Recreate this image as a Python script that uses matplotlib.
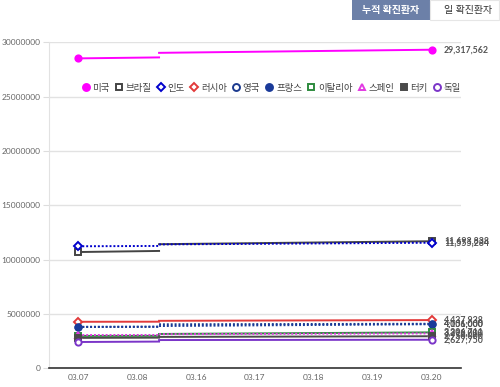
import matplotlib
matplotlib.use("Agg")
import matplotlib.pyplot as plt
from matplotlib.patches import Rectangle
from matplotlib.lines import Line2D

plt.rcParams['font.family'] = ['Lato', 'Noto Sans CJK KR', 'DejaVu Sans']

dates = ["03.07", "03.08", "03.16", "03.17", "03.18", "03.19", "03.20"]
countries = ["미국", "브라질", "인도", "러시아", "영국", "프랑스", "이탈리아", "스페인", "터키", "독일"]

# each series: [value at 03.07, value before the break, value after the break, value at 03.20]
usa     = [28520000, 28610000, 29030000, 29317562]
brazil  = [10700000, 10800000, 11420000, 11693838]
india   = [11230000, 11260000, 11400000, 11555284]
russia  = [4280000, 4290000, 4370000, 4437938]
uk      = [3800000, 3810000, 4050000, 4101000]
france  = [3820000, 3840000, 3890000, 4056000]
italy   = [2980000, 2990000, 3160000, 3306711]
spain   = [3060000, 3070000, 3140000, 3212000]
turkey  = [2800000, 2820000, 2890000, 2950000]
germany = [2420000, 2460000, 2600000, 2627750]
series = [usa, brazil, india, russia, uk, france, italy, spain, turkey, germany]

y_ticks = [0, 5000000, 10000000, 15000000, 20000000, 25000000, 30000000]

# styles
colors = ["#ff00ff", "#444444", "#0000cc", "#e23a3a", "#1c3a8f", "#1a3a99",
          "#2e8b3e", "#e23ae2", "#4a4a4a", "#7b35c8"]
markers = ["o", "s", "D", "D", "o", "o", "s", "^", "s", "o"]
filled = [True, False, False, False, False, True, False, False, True, False]
styles = ["-", "-", (0, (1, 1)), "-", (0, (1, 1)), (0, (1, 1)), "-", (0, (1, 1)), "-", "-"]
BREAK = 1.37

fig = plt.figure(figsize=(5.0, 3.87), dpi=100)
ax = fig.add_axes([0.098, 0.0483, 0.824, 0.8424])

n = len(dates)
x_first, x_last = 0, n - 1
for s, c, m, f, ls in zip(series, colors, markers, filled, styles):
    ax.plot([x_first, BREAK], [s[0], s[1]], color=c, lw=1.4, ls=ls, zorder=3)
    ax.plot([BREAK, x_last], [s[2], s[3]], color=c, lw=1.4, ls=ls, zorder=3)
    fc = c if f else "white"
    ms = 4.5 if m != "D" else 4
    ax.plot([x_first, x_last], [s[0], s[3]], ls="none", marker=m, ms=ms,
            mfc=fc, mec=c, mew=1.4, zorder=4)
    ax.annotate(f"{s[3]:,}", (x_last, s[3]), xytext=(9, 0), textcoords="offset points",
                fontsize=6.3, color="#555555", fontweight="bold", va="center", ha="left",
                annotation_clip=False)

ax.set_xlim(-0.5, n - 0.5)
ax.set_ylim(0, 30000000)
ax.set_xticks(range(n))
ax.set_xticklabels(dates)
ax.set_yticks(y_ticks)
ax.set_yticklabels([str(v) for v in y_ticks])
ax.tick_params(axis="both", labelsize=6, colors="#666666", length=0, pad=4)
ax.tick_params(axis="y", length=4, color="#dddddd", pad=2)
ax.grid(axis="y", color="#e2e2e2", lw=1)
ax.set_axisbelow(True)
for side in ["top", "right"]:
    ax.spines[side].set_visible(False)
ax.spines["left"].set_color("#e2e2e2")
ax.spines["bottom"].set_color("#333333")
ax.spines["bottom"].set_linewidth(1.2)

handles = []
for c, m, f in zip(colors, markers, filled):
    handles.append(Line2D([], [], ls="none", marker=m, ms=5 if m != "D" else 4.5,
                          mfc=c if f else "white", mec=c, mew=1.4))
fig.legend(handles, countries, loc="center", bbox_to_anchor=(0.543, 1 - 88 / 387),
           ncol=10, frameon=False, fontsize=6.8, handlelength=0.8, handletextpad=0.3,
           columnspacing=0.6, labelcolor="#444444")

# tab buttons
fig.patches.append(Rectangle((352 / 500, 1 - 20 / 387), 78 / 500, 20 / 387,
                             transform=fig.transFigure, facecolor="#6c80a8",
                             edgecolor="none"))
fig.text(391 / 500, 1 - 10 / 387, "누적 확진환자", color="white", fontsize=7.2,
         fontweight="bold", ha="center", va="center")
fig.patches.append(Rectangle((430 / 500, 1 - 20 / 387), 69 / 500, 20 / 387,
                             transform=fig.transFigure, facecolor="white",
                             edgecolor="#e6e6e6", lw=0.8))
fig.text(468 / 500, 1 - 10 / 387, "일 확진환자", color="#333333", fontsize=7.2,
         ha="center", va="center")

fig.savefig("out.png", dpi=100)
